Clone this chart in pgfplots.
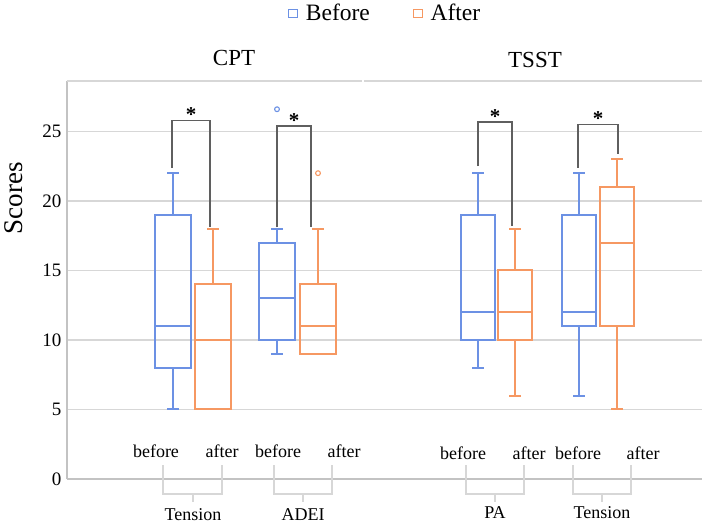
\documentclass[border=0pt]{standalone}
\usepackage{fontspec}
\setmainfont{Liberation Serif}
\usepackage{pgfplots}
\pgfplotsset{compat=1.18}
\definecolor{blueC}{RGB}{108,145,228}
\definecolor{orangeC}{RGB}{246,152,98}
\definecolor{gridC}{RGB}{215,215,215}
\definecolor{axC}{RGB}{195,195,195}
\definecolor{brC}{RGB}{95,95,95}
\begin{document}
\begin{tikzpicture}
\begin{axis}[
  x=1pt, y=13.9pt,
  xmin=67, xmax=702, ymin=0, ymax=28.63,
  axis lines*=left,
  axis line style={axC, line width=1.6pt, -},
  xtick=\empty, ytick={0,5,10,15,20,25},
  ymajorgrids, grid style={gridC, line width=1.2pt},
  major tick length=0pt,
  tick label style={font=\fontsize{19}{21}\selectfont},
  /pgf/number format/assume math mode=true,
  yticklabel style={xshift=-2pt},
  clip=false,
  unbounded coords=jump,
  legend columns=2,
  legend style={draw=none, fill=none, at={(axis cs:285,33.52)}, anchor=west,
    font=\fontsize{23.5}{25}\selectfont,
    /tikz/every even column/.append style={column sep=41pt}},
  box/.style={line width=2pt, line cap=rect, line join=miter, forget plot},
]
% legend
\addlegendimage{legend image code/.code={\draw[blueC,line width=1pt] (0pt,-4pt) rectangle (9pt,4pt); \path (15pt,0pt);}}
\addlegendentry{Before}
\addlegendimage{legend image code/.code={\draw[orangeC,line width=1pt] (0pt,-4pt) rectangle (9pt,4pt); \path (15pt,0pt);}}
\addlegendentry{After}

% CPT Tension before: whiskers 5-22, box 8-19, median 11
\addplot[box, blueC] coordinates {(155,8)(191,8)(191,19)(155,19)(155,8) (nan,nan)
  (155,11)(191,11) (nan,nan) (173,19)(173,22) (nan,nan) (168,22)(178,22)
  (nan,nan) (173,8)(173,5) (nan,nan) (168,5)(178,5)};
% CPT Tension after: whiskers 5-18, box 5-14, median 10
\addplot[box, orangeC] coordinates {(195,5)(231,5)(231,14)(195,14)(195,5) (nan,nan)
  (195,10)(231,10) (nan,nan) (213,14)(213,18) (nan,nan) (208,18)(218,18)};
% CPT ADEI before: whiskers 9-18, box 10-17, median 13, outlier 26.6
\addplot[box, blueC] coordinates {(259,10)(295,10)(295,17)(259,17)(259,10) (nan,nan)
  (259,13)(295,13) (nan,nan) (277,17)(277,18) (nan,nan) (272,18)(282,18)
  (nan,nan) (277,10)(277,9) (nan,nan) (272,9)(282,9)};
\addplot[blueC, only marks, mark=o, mark size=2.4pt, line width=1.1pt, forget plot] coordinates {(277,26.6)};
% CPT ADEI after: whiskers 9-18, box 9-14, median 11, outlier 22
\addplot[box, orangeC] coordinates {(300,9)(336,9)(336,14)(300,14)(300,9) (nan,nan)
  (300,11)(336,11) (nan,nan) (318,14)(318,18) (nan,nan) (313,18)(323,18)};
\addplot[orangeC, only marks, mark=o, mark size=2.4pt, line width=1.1pt, forget plot] coordinates {(318,22)};
% TSST PA before: whiskers 8-22, box 10-19, median 12
\addplot[box, blueC] coordinates {(461,10)(495,10)(495,19)(461,19)(461,10) (nan,nan)
  (461,12)(495,12) (nan,nan) (478,19)(478,22) (nan,nan) (473,22)(483,22)
  (nan,nan) (478,10)(478,8) (nan,nan) (473,8)(483,8)};
% TSST PA after: whiskers 6-18, box 10-15, median 12
\addplot[box, orangeC] coordinates {(498,10)(532,10)(532,15)(498,15)(498,10) (nan,nan)
  (498,12)(532,12) (nan,nan) (515,15)(515,18) (nan,nan) (510,18)(520,18)
  (nan,nan) (515,10)(515,6) (nan,nan) (510,6)(520,6)};
% TSST Tension before: whiskers 6-22, box 11-19, median 12
\addplot[box, blueC] coordinates {(562,11)(596,11)(596,19)(562,19)(562,11) (nan,nan)
  (562,12)(596,12) (nan,nan) (579,19)(579,22) (nan,nan) (574,22)(584,22)
  (nan,nan) (579,11)(579,6) (nan,nan) (574,6)(584,6)};
% TSST Tension after: whiskers 5-23, box 11-21, median 17
\addplot[box, orangeC] coordinates {(600,11)(634,11)(634,21)(600,21)(600,11) (nan,nan)
  (600,17)(634,17) (nan,nan) (617,21)(617,23) (nan,nan) (612,23)(622,23)
  (nan,nan) (617,11)(617,5) (nan,nan) (612,5)(622,5)};

% significance brackets
\addplot[brC, line width=1.5pt, forget plot] coordinates {(172,22.4) (172,25.8) (210,25.8) (210,18.1)};
\addplot[brC, line width=1.5pt, forget plot] coordinates {(277,18.1) (277,25.4) (311,25.4) (311,18.1)};
\addplot[brC, line width=1.5pt, forget plot] coordinates {(478,22.5) (478,25.7) (512,25.7) (512,18.2)};
\addplot[brC, line width=1.5pt, forget plot] coordinates {(578,22.4) (578,25.5) (618,25.5) (618,23.4)};
\node[font=\bfseries\fontsize{21}{21}\selectfont, anchor=base] at (axis cs:191,25.7) {*};
\node[font=\bfseries\fontsize{21}{21}\selectfont, anchor=base] at (axis cs:294,25.3) {*};
\node[font=\bfseries\fontsize{21}{21}\selectfont, anchor=base] at (axis cs:495,25.6) {*};
\node[font=\bfseries\fontsize{21}{21}\selectfont, anchor=base] at (axis cs:598,25.4) {*};

% group brackets
\addplot[gridC, line width=1.2pt, forget plot] coordinates {(163,1.0) (163,-1.08) (222,-1.08) (222,1.0)};
\addplot[gridC, line width=1.2pt, forget plot] coordinates {(193,-1.08) (193,-1.65)};
\addplot[gridC, line width=1.2pt, forget plot] coordinates {(274,1.0) (274,-1.08) (332,-1.08) (332,1.0)};
\addplot[gridC, line width=1.2pt, forget plot] coordinates {(303,-1.08) (303,-1.65)};
\addplot[gridC, line width=1.2pt, forget plot] coordinates {(466,1.0) (466,-1.08) (524,-1.08) (524,1.0)};
\addplot[gridC, line width=1.2pt, forget plot] coordinates {(495,-1.08) (495,-1.65)};
\addplot[gridC, line width=1.2pt, forget plot] coordinates {(573,1.0) (573,-1.08) (631,-1.08) (631,1.0)};
\addplot[gridC, line width=1.2pt, forget plot] coordinates {(602,-1.08) (602,-1.65)};

% before/after labels
\begin{scope}[every node/.style={font=\fontsize{18}{20}\selectfont}]
\node at (axis cs:156,2.01) {before};
\node at (axis cs:222,2.01) {after};
\node at (axis cs:278,2.01) {before};
\node at (axis cs:344,2.01) {after};
\node at (axis cs:463,1.87) {before};
\node at (axis cs:529,1.87) {after};
\node at (axis cs:578,1.87) {before};
\node at (axis cs:643,1.87) {after};
\node at (axis cs:193,-2.59) {Tension};
\node at (axis cs:303,-2.59) {ADEI};
\node at (axis cs:495,-2.45) {PA};
\node at (axis cs:602,-2.45) {Tension};
\end{scope}

% titles
\node[font=\fontsize{23}{25}\selectfont] at (axis cs:234,30.29) {CPT};
\node[font=\fontsize{23}{25}\selectfont] at (axis cs:535,30.14) {TSST};
\node[font=\fontsize{27}{29}\selectfont, rotate=90] at (axis cs:14,20.2) {Scores};

% top frame line
\draw[gridC, line width=1.4pt] (axis cs:67,28.63) -- (axis cs:362,28.63);
\draw[gridC, line width=1.4pt] (axis cs:364,28.63) -- (axis cs:702,28.63);

\coordinate (bl) at (axis cs:0,-3.381);
\coordinate (tr) at (axis cs:708,34.46);
\end{axis}
\pgfresetboundingbox
\path[use as bounding box] (bl) rectangle (tr);
\end{tikzpicture}
\end{document}
